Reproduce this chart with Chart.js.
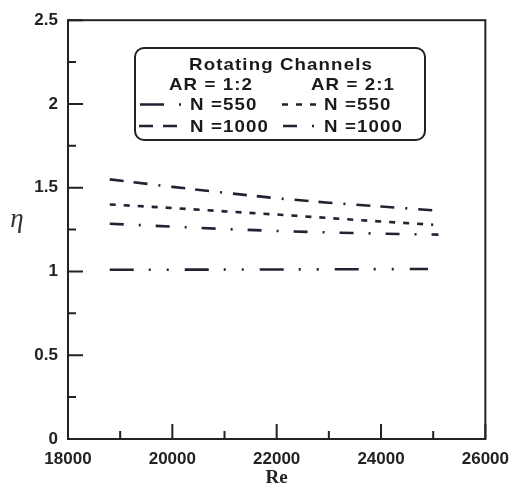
<!DOCTYPE html>
<html>
<head>
<meta charset="utf-8">
<script src="https://cdn.jsdelivr.net/npm/chart.js@4.4.0/dist/chart.umd.min.js"></script>
<style>
body { margin: 0; background: #fff; }
#wrap { width: 519px; height: 487px; }
</style>
</head>
<body>
<div id="wrap"><canvas id="etaChart"></canvas></div>
<script>
// values (Re vs eta)
var reN1000a = [18800, 20000, 21000, 22000, 23000, 24000, 25050];
var etaN1000a = [1.55, 1.505, 1.47, 1.437, 1.41, 1.388, 1.364];   // AR = 1:2, N = 1000
var reN550b = [18800, 20000, 21000, 22000, 23000, 24000, 25000];
var etaN550b = [1.40, 1.379, 1.359, 1.34, 1.319, 1.298, 1.279];   // AR = 2:1, N = 550
var reN1000b = [18800, 20000, 21000, 22000, 23000, 24000, 25100];
var etaN1000b = [1.285, 1.268, 1.253, 1.242, 1.233, 1.226, 1.22]; // AR = 2:1, N = 1000
var reN550a = [18800, 22000, 24900];
var etaN550a = [1.01, 1.012, 1.015];                               // AR = 1:2, N = 550

var xMin = 18000, xMax = 26000, xStep = 2000;
var yMin = 0, yMax = 2.5, yStep = 0.5;

var ink = '#1f2333';

function pts(xs, ys) {
  return xs.map(function (v, i) { return { x: v, y: ys[i] }; });
}

function lineSet(label, xs, ys, dash) {
  return {
    label: label,
    data: pts(xs, ys),
    borderColor: ink,
    borderWidth: 2.6,
    borderDash: dash,
    pointRadius: 0,
    fill: false,
    tension: 0
  };
}

var datasets = [
  lineSet('AR 1:2 N=550', reN550a, etaN550a, [24, 15, 2, 16, 2, 16]),
  lineSet('AR 1:2 N=1000', reN1000a, etaN1000a, [14, 10, 14, 11, 2, 11]),
  lineSet('AR 2:1 N=550', reN550b, etaN550b, [6, 8]),
  lineSet('AR 2:1 N=1000', reN1000b, etaN1000b, [14, 15, 2, 15])
];

// text drawn a bit wide, like the scan
function wideText(ctx, text, x, y, align) {
  ctx.save();
  ctx.translate(x, y);
  ctx.scale(1.1, 1);
  ctx.textAlign = align;
  ctx.fillText(text, 0, 0);
  ctx.restore();
}

function sample(ctx, ds, x, y, len) {
  ctx.save();
  ctx.strokeStyle = ds.borderColor;
  ctx.lineWidth = ds.borderWidth;
  ctx.setLineDash(ds.borderDash);
  ctx.beginPath();
  ctx.moveTo(x, y);
  ctx.lineTo(x + len, y);
  ctx.stroke();
  ctx.restore();
}

var framePlugin = {
  id: 'frame',
  afterDatasetsDraw: function (chart) {
    var ctx = chart.ctx, a = chart.chartArea;
    var xs = chart.scales.x, ys = chart.scales.y;
    ctx.save();
    ctx.strokeStyle = '#222';
    ctx.lineWidth = 2;
    ctx.strokeRect(a.left, a.top, a.right - a.left, a.bottom - a.top);

    // inward ticks, major and minor
    ctx.beginPath();
    xs.ticks.forEach(function (t, i) {
      var px = xs.getPixelForValue(t.value);
      ctx.moveTo(px, a.bottom); ctx.lineTo(px, a.bottom - 15);
      if (i < xs.ticks.length - 1) {
        var mx = xs.getPixelForValue((t.value + xs.ticks[i + 1].value) / 2);
        ctx.moveTo(mx, a.bottom); ctx.lineTo(mx, a.bottom - 8);
      }
    });
    ys.ticks.forEach(function (t, i) {
      var py = ys.getPixelForValue(t.value);
      ctx.moveTo(a.left, py); ctx.lineTo(a.left + 15, py);
      if (i < ys.ticks.length - 1) {
        var my = ys.getPixelForValue((t.value + ys.ticks[i + 1].value) / 2);
        ctx.moveTo(a.left, my); ctx.lineTo(a.left + 8, my);
      }
    });
    ctx.stroke();

    // eta label, upright
    ctx.fillStyle = '#333';
    ctx.font = 'italic 27px "Liberation Serif", serif';
    ctx.textAlign = 'center';
    ctx.textBaseline = 'alphabetic';
    ctx.fillText('\u03b7', 17, 227);

    // legend box
    ctx.strokeStyle = '#222';
    ctx.lineWidth = 2;
    ctx.beginPath();
    ctx.roundRect(135, 48, 290, 92, 9);
    ctx.stroke();

    ctx.fillStyle = '#1a1a1a';
    ctx.font = 'bold 17px "Liberation Sans", Arial, sans-serif';
    ctx.letterSpacing = '1px';
    wideText(ctx, 'Rotating Channels', 281, 70, 'center');
    wideText(ctx, 'AR = 1:2', 211, 89.5, 'center');
    wideText(ctx, 'AR = 2:1', 353, 89.5, 'center');
    wideText(ctx, 'N =550', 190, 109.5, 'left');
    wideText(ctx, 'N =1000', 190, 132, 'left');
    wideText(ctx, 'N =550', 324, 109.5, 'left');
    wideText(ctx, 'N =1000', 324, 132, 'left');
    ctx.letterSpacing = '0px';

    var d = chart.data.datasets;
    sample(ctx, d[0], 140, 104.5, 44);
    sample(ctx, d[1], 139, 126, 40);
    sample(ctx, d[2], 282, 104.5, 34);
    sample(ctx, d[3], 283, 126, 32);
    ctx.restore();
  }
};

var tickFont = { family: '"Liberation Sans", Arial, sans-serif', size: 17, weight: 'bold' };

new Chart(document.getElementById('etaChart'), {
  type: 'line',
  data: { datasets: datasets },
  options: {
    responsive: true,
    maintainAspectRatio: false,
    animation: false,
    layout: { padding: { top: 16, right: 27, left: 0, bottom: 0 } },
    plugins: { legend: { display: false }, tooltip: { enabled: false } },
    scales: {
      x: {
        type: 'linear',
        min: xMin, max: xMax,
        ticks: {
          stepSize: xStep, color: '#222', font: tickFont, padding: 10, maxRotation: 0,
          callback: function (v) { return String(v); }
        },
        grid: { display: false, drawTicks: false },
        border: { display: false },
        title: {
          display: true, text: 'Re', color: '#222',
          font: { family: '"Liberation Serif", serif', size: 19, weight: 'bold' },
          padding: { top: -2, bottom: -2 }
        },
        afterFit: function (s) { s.height = 48; }
      },
      y: {
        type: 'linear',
        min: yMin, max: yMax,
        ticks: {
          stepSize: yStep, color: '#222', font: tickFont, padding: 10,
          callback: function (v) { return String(v); }
        },
        grid: { display: false, drawTicks: false },
        border: { display: false },
        afterFit: function (s) { s.width = 68; }
      }
    }
  },
  plugins: [framePlugin]
});
</script>
</body>
</html>
